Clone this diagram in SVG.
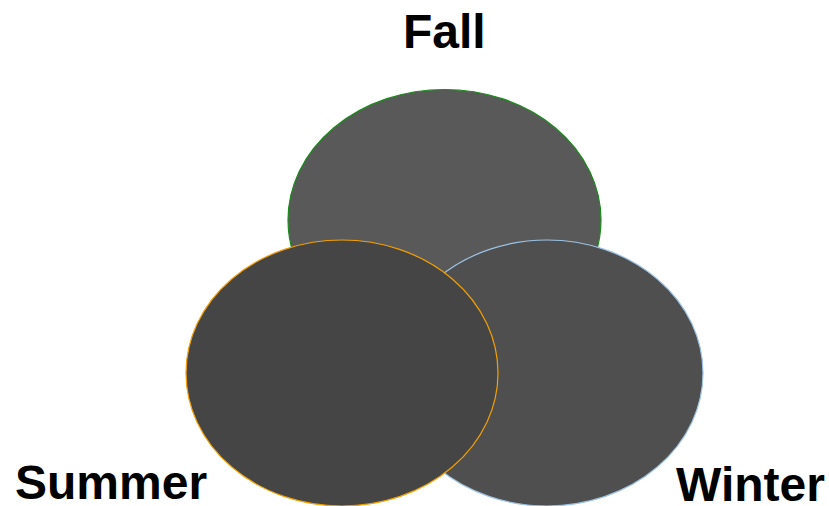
<svg xmlns="http://www.w3.org/2000/svg" width="829" height="506" viewBox="0 0 829 506">
<style>
.lbl{font-family:"Liberation Sans",Arial,sans-serif;font-weight:bold;font-size:48px;fill:#000}
.set{stroke-width:1.2}
</style>
<rect width="829" height="506" fill="#fff"/>
<g id="fall">
<ellipse class="set" cx="444.5" cy="220" rx="156.5" ry="130.5" fill="#595959" stroke="#1a8a1a"/>
<text class="lbl" x="403" y="48">Fall</text>
</g>
<g id="winter">
<ellipse class="set" cx="547" cy="373" rx="156" ry="133" fill="#4f4f4f" stroke="#9dc3e6"/>
<text class="lbl" x="676" y="501">Winter</text>
</g>
<g id="summer">
<ellipse class="set" cx="342" cy="373" rx="156" ry="133" fill="#454545" stroke="#f5a000"/>
<text class="lbl" x="15" y="499">Summer</text>
</g>
<g id="connectors"></g>
</svg>
